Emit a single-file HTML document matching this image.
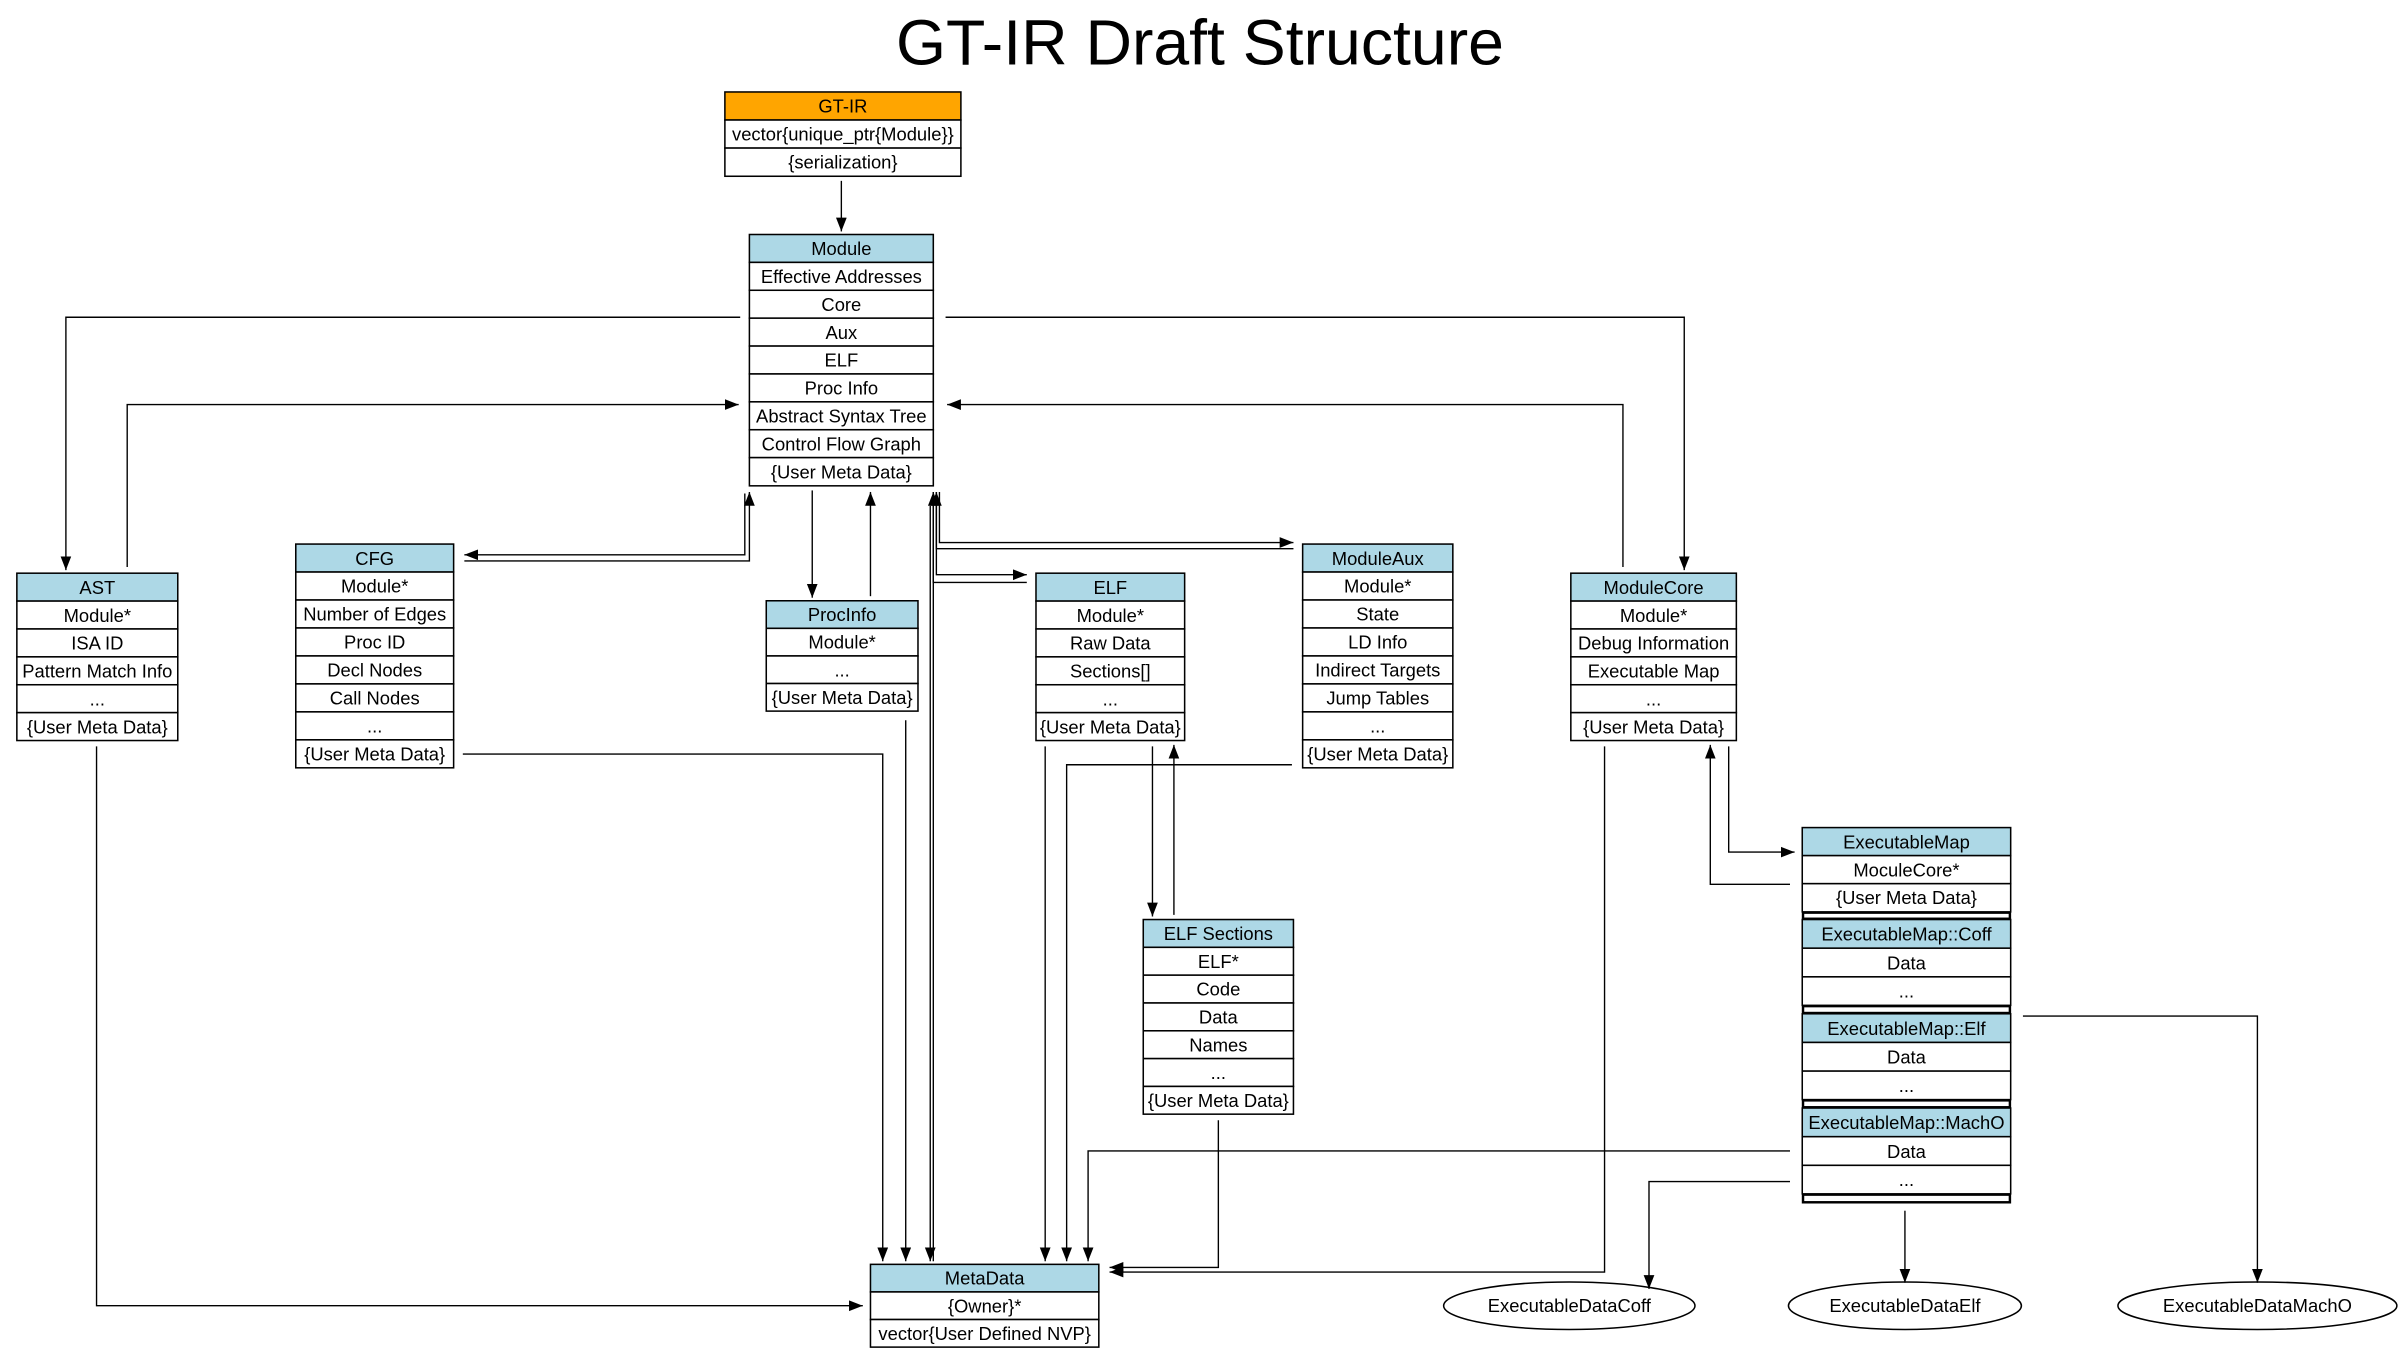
<!DOCTYPE html>
<html><head><meta charset="utf-8"><style>
html,body{margin:0;padding:0;background:#fff;}
svg{display:block;}
text{font-family:"Liberation Sans",Arial,sans-serif;font-size:12px;text-anchor:middle;fill:#000;}
.r{fill:#fff;stroke:#000;stroke-width:1;}
.h{fill:#add8e6;stroke:#000;stroke-width:1;}
.o{fill:#ffa500;stroke:#000;stroke-width:1;}
.l{fill:none;stroke:#000;stroke-width:0.9;}
</style></head><body>
<svg width="2403" height="1360" viewBox="0 0 1568 887.4" xmlns="http://www.w3.org/2000/svg">
<defs><marker id="a" markerUnits="userSpaceOnUse" markerWidth="10" markerHeight="8" refX="9" refY="3.5" orient="auto"><path d="M0,0 L9,3.5 L0,7 z" fill="#000"/></marker></defs>
<text x="783" y="42" style="font-size:42px">GT-IR Draft Structure</text>

<!-- GT-IR -->
<g transform="translate(473,60)">
<rect class="o" x="0" y="0" width="154" height="18.3"/><text x="77" y="13.5">GT-IR</text>
<rect class="r" x="0" y="18.3" width="154" height="18.3"/><text x="77" y="31.8">vector{unique_ptr{Module}}</text>
<rect class="r" x="0" y="36.6" width="154" height="18.4"/><text x="77" y="50.1">{serialization}</text>
</g>

<!-- Module -->
<g transform="translate(489,153)">
<rect class="h" x="0" y="0" width="120" height="18.2"/><text x="60" y="13.5">Module</text>
<rect class="r" x="0" y="18.2" width="120" height="18.2"/><text x="60" y="31.7">Effective Addresses</text>
<rect class="r" x="0" y="36.4" width="120" height="18.2"/><text x="60" y="49.9">Core</text>
<rect class="r" x="0" y="54.6" width="120" height="18.2"/><text x="60" y="68.1">Aux</text>
<rect class="r" x="0" y="72.8" width="120" height="18.2"/><text x="60" y="86.3">ELF</text>
<rect class="r" x="0" y="91" width="120" height="18.2"/><text x="60" y="104.5">Proc Info</text>
<rect class="r" x="0" y="109.2" width="120" height="18.2"/><text x="60" y="122.7">Abstract Syntax Tree</text>
<rect class="r" x="0" y="127.4" width="120" height="18.2"/><text x="60" y="140.9">Control Flow Graph</text>
<rect class="r" x="0" y="145.6" width="120" height="18.4"/><text x="60" y="159.1">{User Meta Data}</text>
</g>

<!-- AST -->
<g transform="translate(11,374)">
<rect class="h" x="0" y="0" width="105" height="18.2"/><text x="52.5" y="13.5">AST</text>
<rect class="r" x="0" y="18.2" width="105" height="18.2"/><text x="52.5" y="31.7">Module*</text>
<rect class="r" x="0" y="36.4" width="105" height="18.2"/><text x="52.5" y="49.9">ISA ID</text>
<rect class="r" x="0" y="54.6" width="105" height="18.2"/><text x="52.5" y="68.1">Pattern Match Info</text>
<rect class="r" x="0" y="72.8" width="105" height="18.2"/><text x="52.5" y="86.3">...</text>
<rect class="r" x="0" y="91" width="105" height="18.2"/><text x="52.5" y="104.5">{User Meta Data}</text>
</g>

<!-- CFG -->
<g transform="translate(193,355)">
<rect class="h" x="0" y="0" width="103" height="18.25"/><text x="51.5" y="13.5">CFG</text>
<rect class="r" x="0" y="18.25" width="103" height="18.25"/><text x="51.5" y="31.7">Module*</text>
<rect class="r" x="0" y="36.5" width="103" height="18.25"/><text x="51.5" y="50">Number of Edges</text>
<rect class="r" x="0" y="54.75" width="103" height="18.25"/><text x="51.5" y="68.2">Proc ID</text>
<rect class="r" x="0" y="73" width="103" height="18.25"/><text x="51.5" y="86.5">Decl Nodes</text>
<rect class="r" x="0" y="91.25" width="103" height="18.25"/><text x="51.5" y="104.7">Call Nodes</text>
<rect class="r" x="0" y="109.5" width="103" height="18.25"/><text x="51.5" y="123">...</text>
<rect class="r" x="0" y="127.75" width="103" height="18.25"/><text x="51.5" y="141.2">{User Meta Data}</text>
</g>

<!-- ProcInfo -->
<g transform="translate(500,392)">
<rect class="h" x="0" y="0" width="99" height="18"/><text x="49.5" y="13.3">ProcInfo</text>
<rect class="r" x="0" y="18" width="99" height="18"/><text x="49.5" y="31.3">Module*</text>
<rect class="r" x="0" y="36" width="99" height="18"/><text x="49.5" y="49.3">...</text>
<rect class="r" x="0" y="54" width="99" height="18"/><text x="49.5" y="67.3">{User Meta Data}</text>
</g>

<!-- ELF -->
<g transform="translate(676,374)">
<rect class="h" x="0" y="0" width="97" height="18.2"/><text x="48.5" y="13.5">ELF</text>
<rect class="r" x="0" y="18.2" width="97" height="18.2"/><text x="48.5" y="31.7">Module*</text>
<rect class="r" x="0" y="36.4" width="97" height="18.2"/><text x="48.5" y="49.9">Raw Data</text>
<rect class="r" x="0" y="54.6" width="97" height="18.2"/><text x="48.5" y="68.1">Sections[]</text>
<rect class="r" x="0" y="72.8" width="97" height="18.2"/><text x="48.5" y="86.3">...</text>
<rect class="r" x="0" y="91" width="97" height="18.2"/><text x="48.5" y="104.5">{User Meta Data}</text>
</g>

<!-- ModuleAux -->
<g transform="translate(850,355)">
<rect class="h" x="0" y="0" width="98" height="18.25"/><text x="49" y="13.5">ModuleAux</text>
<rect class="r" x="0" y="18.25" width="98" height="18.25"/><text x="49" y="31.7">Module*</text>
<rect class="r" x="0" y="36.5" width="98" height="18.25"/><text x="49" y="50">State</text>
<rect class="r" x="0" y="54.75" width="98" height="18.25"/><text x="49" y="68.2">LD Info</text>
<rect class="r" x="0" y="73" width="98" height="18.25"/><text x="49" y="86.5">Indirect Targets</text>
<rect class="r" x="0" y="91.25" width="98" height="18.25"/><text x="49" y="104.7">Jump Tables</text>
<rect class="r" x="0" y="109.5" width="98" height="18.25"/><text x="49" y="123">...</text>
<rect class="r" x="0" y="127.75" width="98" height="18.25"/><text x="49" y="141.2">{User Meta Data}</text>
</g>

<!-- ModuleCore -->
<g transform="translate(1025,374)">
<rect class="h" x="0" y="0" width="108" height="18.2"/><text x="54" y="13.5">ModuleCore</text>
<rect class="r" x="0" y="18.2" width="108" height="18.2"/><text x="54" y="31.7">Module*</text>
<rect class="r" x="0" y="36.4" width="108" height="18.2"/><text x="54" y="49.9">Debug Information</text>
<rect class="r" x="0" y="54.6" width="108" height="18.2"/><text x="54" y="68.1">Executable Map</text>
<rect class="r" x="0" y="72.8" width="108" height="18.2"/><text x="54" y="86.3">...</text>
<rect class="r" x="0" y="91" width="108" height="18.2"/><text x="54" y="104.5">{User Meta Data}</text>
</g>

<!-- ELF Sections -->
<g transform="translate(746,600)">
<rect class="h" x="0" y="0" width="98" height="18.15"/><text x="49" y="13.4">ELF Sections</text>
<rect class="r" x="0" y="18.15" width="98" height="18.15"/><text x="49" y="31.6">ELF*</text>
<rect class="r" x="0" y="36.3" width="98" height="18.15"/><text x="49" y="49.7">Code</text>
<rect class="r" x="0" y="54.45" width="98" height="18.15"/><text x="49" y="67.9">Data</text>
<rect class="r" x="0" y="72.6" width="98" height="18.15"/><text x="49" y="86">Names</text>
<rect class="r" x="0" y="90.75" width="98" height="18.15"/><text x="49" y="104.2">...</text>
<rect class="r" x="0" y="108.9" width="98" height="18.1"/><text x="49" y="122.3">{User Meta Data}</text>
</g>

<!-- MetaData -->
<g transform="translate(568,825)">
<rect class="h" x="0" y="0" width="149" height="18"/><text x="74.5" y="13.3">MetaData</text>
<rect class="r" x="0" y="18" width="149" height="18"/><text x="74.5" y="31.3">{Owner}*</text>
<rect class="r" x="0" y="36" width="149" height="18"/><text x="74.5" y="49.3">vector{User Defined NVP}</text>
</g>

<!-- ExecutableMap -->
<g transform="translate(1176,540)">
<rect class="h" x="0" y="0" width="136" height="18.3"/><text x="68" y="13.5">ExecutableMap</text>
<rect class="r" x="0" y="18.3" width="136" height="18.3"/><text x="68" y="31.8">MoculeCore*</text>
<rect class="r" x="0" y="36.6" width="136" height="18.4"/><text x="68" y="50">{User Meta Data}</text>
<rect class="r" x="0.5" y="55.5" width="135" height="4" style="stroke-width:1.6"/>
<rect class="h" x="0" y="60" width="136" height="18.7"/><text x="68" y="73.8">ExecutableMap::Coff</text>
<rect class="r" x="0" y="78.7" width="136" height="18.7"/><text x="68" y="92.5">Data</text>
<rect class="r" x="0" y="97.4" width="136" height="18.6"/><text x="68" y="111">...</text>
<rect class="r" x="0.5" y="116.5" width="135" height="4.5" style="stroke-width:1.6"/>
<rect class="h" x="0" y="121.5" width="136" height="18.7"/><text x="68" y="135.3">ExecutableMap::Elf</text>
<rect class="r" x="0" y="140.2" width="136" height="18.7"/><text x="68" y="154">Data</text>
<rect class="r" x="0" y="158.9" width="136" height="18.6"/><text x="68" y="172.5">...</text>
<rect class="r" x="0.5" y="178" width="135" height="4.5" style="stroke-width:1.6"/>
<rect class="h" x="0" y="183" width="136" height="18.7"/><text x="68" y="196.8">ExecutableMap::MachO</text>
<rect class="r" x="0" y="201.7" width="136" height="18.7"/><text x="68" y="215.5">Data</text>
<rect class="r" x="0" y="220.4" width="136" height="18.6"/><text x="68" y="234">...</text>
<rect class="r" x="0.5" y="239.5" width="135" height="5" style="stroke-width:1.6"/>
</g>

<!-- Ellipses -->
<ellipse cx="1024" cy="852" rx="82" ry="15.5" fill="#fff" stroke="#000" stroke-width="1"/><text x="1024" y="856">ExecutableDataCoff</text>
<ellipse cx="1243" cy="852" rx="76" ry="15.5" fill="#fff" stroke="#000" stroke-width="1"/><text x="1243" y="856">ExecutableDataElf</text>
<ellipse cx="1473" cy="852" rx="91" ry="15.5" fill="#fff" stroke="#000" stroke-width="1"/><text x="1473" y="856">ExecutableDataMachO</text>

<!-- Edges -->
<path class="l" d="M549,118 V151" marker-end="url(#a)"/>
<path class="l" d="M483,207 H43 V372" marker-end="url(#a)"/>
<path class="l" d="M83,370 V264 H482" marker-end="url(#a)"/>
<path class="l" d="M617,207 H1099 V372" marker-end="url(#a)"/>
<path class="l" d="M1059,370 V264 H618" marker-end="url(#a)"/>
<path class="l" d="M486,322 V362 H303" marker-end="url(#a)"/>
<path class="l" d="M303,366 H489 V321" marker-end="url(#a)"/>
<path class="l" d="M530,320 V390" marker-end="url(#a)"/>
<path class="l" d="M568,389 V321" marker-end="url(#a)"/>
<path class="l" d="M613,321 V354 H844" marker-end="url(#a)"/>
<path class="l" d="M844,358 H611 V321" marker-end="url(#a)"/>
<path class="l" d="M611,321 V375 H670" marker-end="url(#a)"/>
<path class="l" d="M670,380 H609 V321" marker-end="url(#a)"/>
<path class="l" d="M609,321 V823" />
<path class="l" d="M607,330 V823" marker-end="url(#a)"/>
<path class="l" d="M63,487 V852 H563" marker-end="url(#a)"/>
<path class="l" d="M302,492 H576 V823" marker-end="url(#a)"/>
<path class="l" d="M591,470 V823" marker-end="url(#a)"/>
<path class="l" d="M682,487 V823" marker-end="url(#a)"/>
<path class="l" d="M843,499 H696 V823" marker-end="url(#a)"/>
<path class="l" d="M1168,751 H710 V823" marker-end="url(#a)"/>
<path class="l" d="M795,731 V827 H724" marker-end="url(#a)"/>
<path class="l" d="M1047,487 V830 H724" marker-end="url(#a)"/>
<path class="l" d="M752,487 V598" marker-end="url(#a)"/>
<path class="l" d="M766,597 V486" marker-end="url(#a)"/>
<path class="l" d="M1128,487 V556 H1171" marker-end="url(#a)"/>
<path class="l" d="M1168,577 H1116 V486" marker-end="url(#a)"/>
<path class="l" d="M1168,771 H1076 V841" marker-end="url(#a)"/>
<path class="l" d="M1243,790 V837" marker-end="url(#a)"/>
<path class="l" d="M1320,663 H1473 V837" marker-end="url(#a)"/>
</svg>
</body></html>
